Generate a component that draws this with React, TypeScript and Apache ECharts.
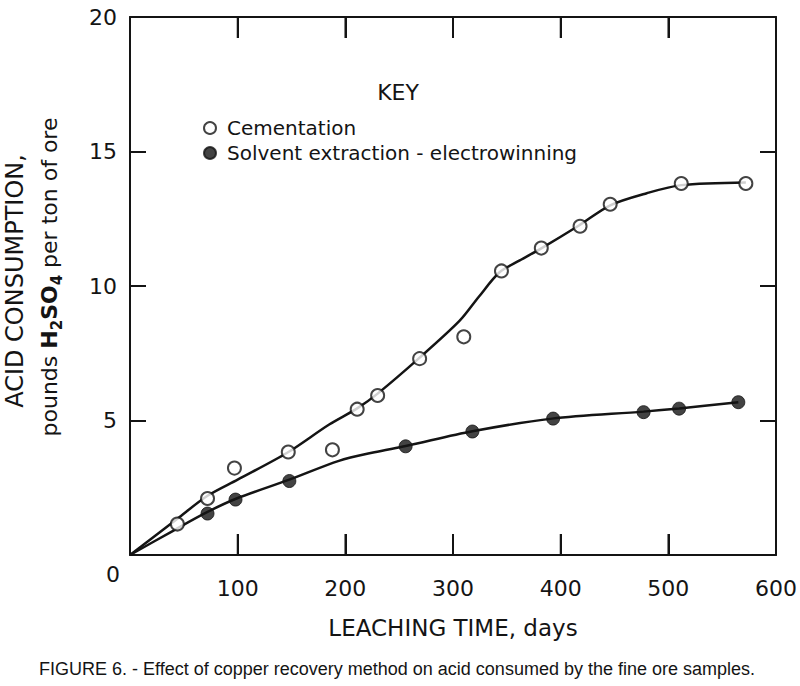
import React, { useEffect, useRef } from "react";
import * as echarts from "echarts";

const cementationDays = [44, 72, 97, 147, 188, 211, 230, 269, 310, 345, 382, 418, 446, 512, 572];
const cementationAcid = [1.15, 2.1, 3.23, 3.83, 3.91, 5.42, 5.93, 7.3, 8.11, 10.56, 11.41, 12.22, 13.04, 13.81, 13.81];
const sxewDays = [72, 98, 148, 256, 318, 393, 477, 510, 565];
const sxewAcid = [1.54, 2.06, 2.75, 4.04, 4.59, 5.07, 5.31, 5.44, 5.68];

// Hand-drawn fitted curves
const cementationFitDays = [0, 44, 72, 100, 146, 185, 211, 230, 268, 306, 324, 343, 362, 382, 417, 446, 480, 512, 572];
const cementationFitAcid = [0, 1.35, 2.2, 2.8, 3.8, 4.85, 5.45, 6.0, 7.3, 8.7, 9.6, 10.5, 10.95, 11.4, 12.25, 13.0, 13.45, 13.75, 13.85];
const sxewFitDays = [0, 40, 72, 99, 148, 194, 227, 256, 318, 392, 477, 510, 565];
const sxewFitAcid = [0, 0.9, 1.6, 2.1, 2.8, 3.5, 3.82, 4.05, 4.6, 5.07, 5.33, 5.45, 5.68];

// Inner tick positions on the horizontal axes (top and bottom)
const xTickValues = [100, 200, 300, 400, 500];

const seriesNames = ["Cementation", "Solvent extraction - electrowinning"];
const xTitle = "LEACHING TIME, days";
const yTitle1 = "ACID CONSUMPTION,";
const caption = "FIGURE 6. - Effect of copper recovery method on acid consumed by the fine ore samples.";

const xMin = 0, xMax = 600, xStep = 100;
const yMin = 0, yMax = 20, yStep = 5;

const zip = (a: number[], b: number[]) => a.map((v, i) => [v, b[i]]);

const FONT = "'DejaVu Sans', sans-serif";
const INK = "#141414";
const X_TICK_LEN = 21;

const centered = { align: "center", verticalAlign: "middle", textAlign: "center", textVerticalAlign: "middle" };

export default function App() {
  const ref = useRef<HTMLDivElement>(null);
  useEffect(() => {
    if (!ref.current) return;
    const chart = echarts.init(ref.current, null, { renderer: "svg" });
    const mkLine = () => ({ show: true, onZero: false, lineStyle: { color: INK, width: 2 } });
    const xTick = () => ({ show: true, inside: true, length: X_TICK_LEN, lineStyle: { width: 2, color: INK } });
    const yTick = () => ({ show: true, inside: true, length: 16, lineStyle: { width: 2, color: INK } });
    const tickSeries = (name: string, yVal: number, dir: number) => ({
      name,
      type: "scatter",
      data: xTickValues.map((v) => [v, yVal]),
      symbol: "rect",
      symbolSize: [2, X_TICK_LEN],
      symbolOffset: [0, (dir * X_TICK_LEN) / 2],
      itemStyle: { color: INK },
      silent: true,
      clip: false,
      z: 4,
    });
    chart.setOption({
      animation: false,
      backgroundColor: "#ffffff",
      grid: { left: 130, right: 21, top: 17, bottom: 131 },
      xAxis: [
        {
          type: "value",
          position: "bottom",
          min: xMin, max: xMax, interval: xStep,
          axisLine: mkLine(),
          axisTick: xTick(),
          splitLine: { show: false },
          axisLabel: { showMinLabel: false, fontSize: 22, margin: 22, color: INK, fontFamily: FONT },
          name: xTitle,
          nameLocation: "middle",
          nameGap: 61,
          nameTextStyle: { fontSize: 23, color: INK, fontFamily: FONT },
        },
        {
          type: "value",
          position: "top",
          min: xMin, max: xMax, interval: xStep,
          axisLine: mkLine(),
          axisTick: xTick(),
          splitLine: { show: false },
          axisLabel: { show: false },
        },
      ],
      yAxis: [
        {
          type: "value",
          position: "left",
          min: yMin, max: yMax, interval: yStep,
          axisLine: mkLine(),
          axisTick: yTick(),
          splitLine: { show: false },
          axisLabel: { showMinLabel: false, fontSize: 22, margin: 13, color: INK, fontFamily: FONT },
        },
        {
          type: "value",
          position: "right",
          min: yMin, max: yMax, interval: yStep,
          axisLine: mkLine(),
          axisTick: yTick(),
          splitLine: { show: false },
          axisLabel: { show: false },
        },
      ],
      legend: {
        data: seriesNames,
        orient: "vertical",
        left: 198,
        top: 113,
        itemWidth: 24,
        itemHeight: 12,
        itemGap: 5,
        selectedMode: false,
        textStyle: { fontSize: 20, lineHeight: 20, color: INK, fontFamily: FONT },
      },
      series: [
        {
          name: "cementation-fit",
          type: "line",
          data: zip(cementationFitDays, cementationFitAcid),
          smooth: 0.3,
          symbol: "none",
          showSymbol: false,
          silent: true,
          lineStyle: { color: INK, width: 2.5 },
          z: 2,
        },
        {
          name: "sxew-fit",
          type: "line",
          data: zip(sxewFitDays, sxewFitAcid),
          smooth: 0.3,
          symbol: "none",
          showSymbol: false,
          silent: true,
          lineStyle: { color: INK, width: 2.5 },
          z: 2,
        },
        {
          name: seriesNames[0],
          type: "scatter",
          data: zip(cementationDays, cementationAcid),
          symbol: "circle",
          symbolSize: 13,
          itemStyle: { color: "#ffffff", borderColor: INK, borderWidth: 2 },
          z: 3,
        },
        {
          name: seriesNames[1],
          type: "scatter",
          data: zip(sxewDays, sxewAcid),
          symbol: "circle",
          symbolSize: 13,
          itemStyle: { color: INK, borderColor: INK, borderWidth: 1 },
          z: 3,
        },
        tickSeries("x-ticks-bottom", yMin, -1),
        tickSeries("x-ticks-top", yMax, 1),
      ],
      graphic: [
        { type: "text", id: "key", x: 398, y: 92, style: { text: "KEY", font: `22px ${FONT}`, fill: INK, ...centered } },
        { type: "text", id: "zero", x: 113, y: 574, style: { text: "0", font: `22px ${FONT}`, fill: INK, ...centered } },
        {
          type: "text", id: "yt1", x: 15, y: 281, rotation: Math.PI / 2,
          style: { text: yTitle1, font: `24px ${FONT}`, fill: INK, ...centered },
        },
        {
          type: "text", id: "yt2", x: 49, y: 277, rotation: Math.PI / 2,
          style: {
            text: "{a|pounds }{b|H}{s|2}{b|SO}{s|4}{a| per ton of ore}",
            fill: INK,
            ...centered,
            rich: {
              a: { fontSize: 22, fontFamily: FONT, lineHeight: 30, fill: INK, color: INK, verticalAlign: "middle" },
              b: { fontSize: 22, fontFamily: FONT, fontWeight: 600, lineHeight: 30, fill: INK, color: INK, verticalAlign: "middle" },
              s: { fontSize: 15, fontFamily: FONT, fontWeight: 600, lineHeight: 15, fill: INK, color: INK, verticalAlign: "bottom" },
            },
          },
        },
        {
          type: "text", id: "cap", x: 397, y: 669,
          style: { text: caption, font: `18px 'Liberation Sans', sans-serif`, fill: INK, ...centered },
        },
      ],
    });
    return () => chart.dispose();
  }, []);
  return <div ref={ref} style={{ position: "fixed", left: 0, top: 0, width: 800, height: 686 }} />;
}
